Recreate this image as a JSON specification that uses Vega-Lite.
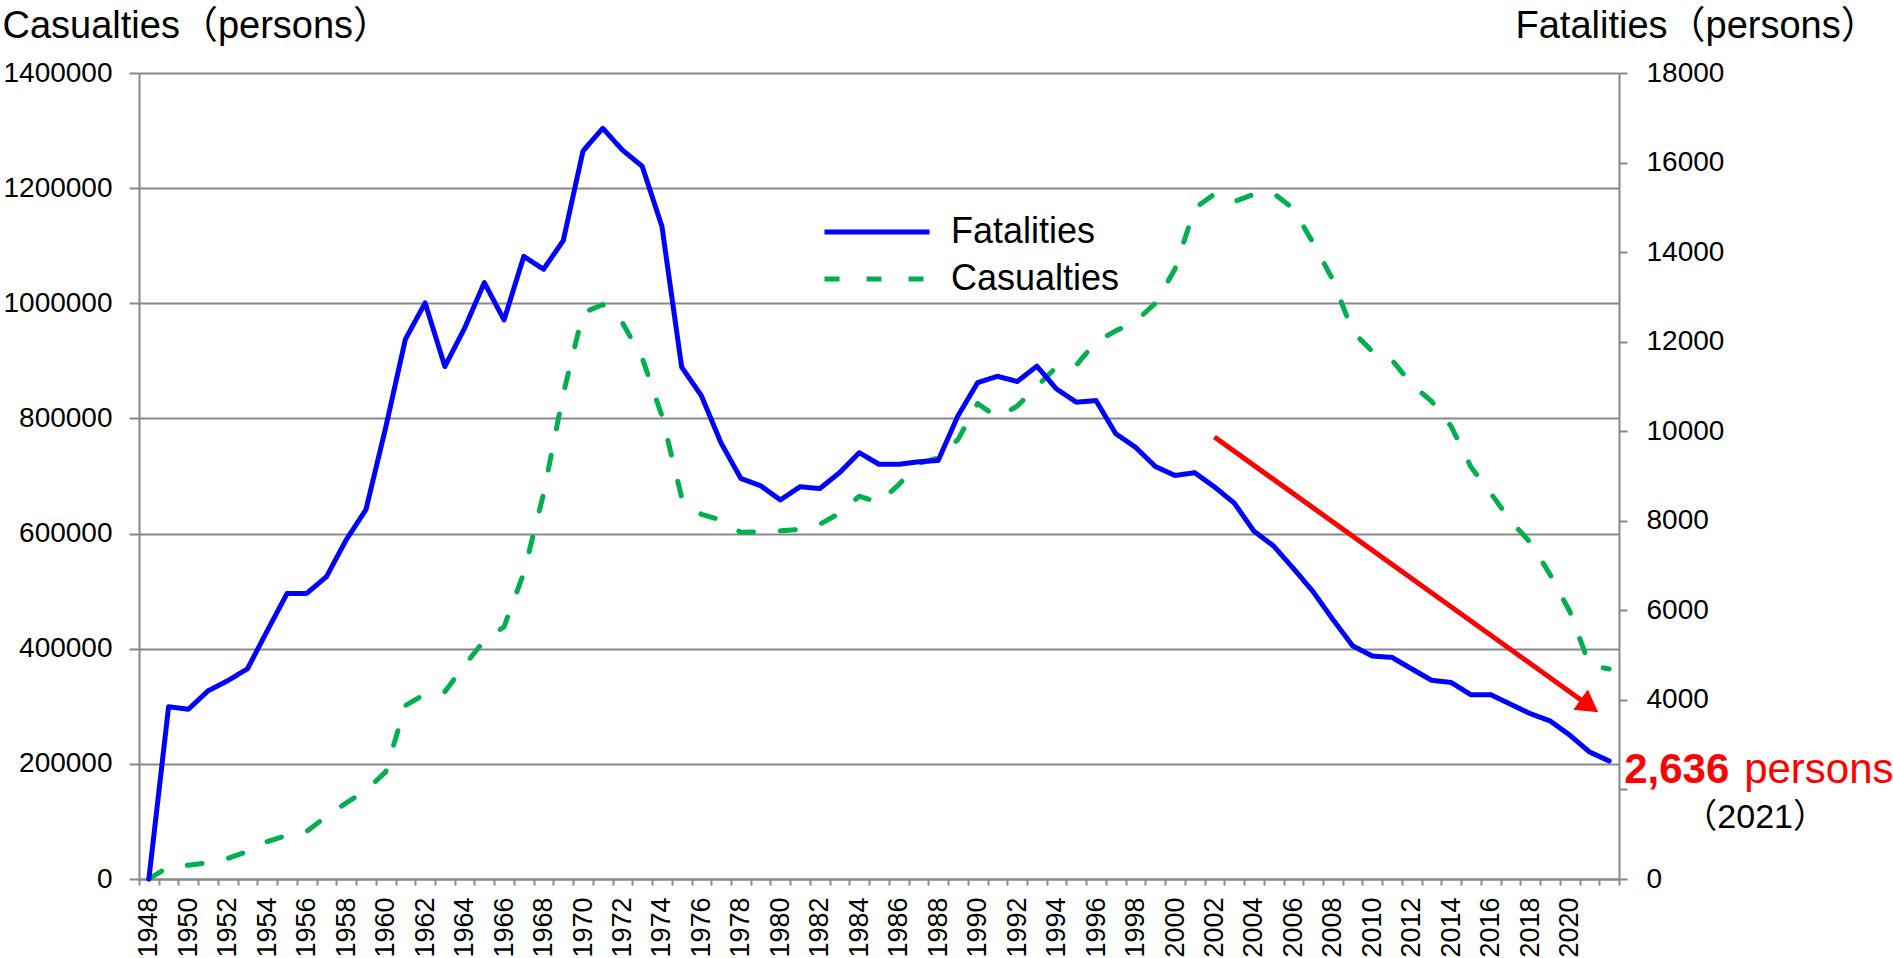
{
  "$schema": "https://vega.github.io/schema/vega-lite/v6.json",
  "width": 1480,
  "height": 806,
  "autosize": {"type": "none"},
  "padding": {"left": 139, "top": 73, "right": 274, "bottom": 79},
  "background": "white",
  "config": {
    "view": {"stroke": null},
    "font": "Liberation Sans, Arial, Noto Sans CJK JP",
    "legend": {
      "orient": "none",
      "legendX": 720,
      "legendY": 141,
      "padding": 0,
      "title": null,
      "symbolType": "M-5,0H5",
      "symbolSize": 441,
      "symbolStrokeWidth": 5,
      "labelFontSize": 36,
      "labelFont": "Liberation Sans, Arial",
      "labelColor": "#000000",
      "labelOffset": 56,
      "rowPadding": 11,
      "labelLimit": 400
    }
  },
  "datasets": {
    "casualties": [
      {"pos": "1948", "series": "Casualties", "value": 0},
      {"pos": "1949", "series": "Casualties", "value": 21457},
      {"pos": "1950", "series": "Casualties", "value": 24000},
      {"pos": "1951", "series": "Casualties", "value": 28000},
      {"pos": "1952", "series": "Casualties", "value": 35703},
      {"pos": "1953", "series": "Casualties", "value": 48017},
      {"pos": "1954", "series": "Casualties", "value": 64824},
      {"pos": "1955", "series": "Casualties", "value": 76000},
      {"pos": "1956", "series": "Casualties", "value": 82880},
      {"pos": "1957", "series": "Casualties", "value": 108823},
      {"pos": "1958", "series": "Casualties", "value": 132105},
      {"pos": "1959", "series": "Casualties", "value": 153680},
      {"pos": "1960", "series": "Casualties", "value": 186030},
      {"pos": "1961", "series": "Casualties", "value": 301211},
      {"pos": "1962", "series": "Casualties", "value": 321562},
      {"pos": "1963", "series": "Casualties", "value": 325258},
      {"pos": "1964", "series": "Casualties", "value": 371390},
      {"pos": "1965", "series": "Casualties", "value": 414435},
      {"pos": "1966", "series": "Casualties", "value": 438150},
      {"pos": "1967", "series": "Casualties", "value": 531679},
      {"pos": "1968", "series": "Casualties", "value": 668995},
      {"pos": "1969", "series": "Casualties", "value": 842327},
      {"pos": "1970", "series": "Casualties", "value": 983257},
      {"pos": "1971", "series": "Casualties", "value": 997861},
      {"pos": "1972", "series": "Casualties", "value": 965967},
      {"pos": "1973", "series": "Casualties", "value": 905116},
      {"pos": "1974", "series": "Casualties", "value": 804522},
      {"pos": "1975", "series": "Casualties", "value": 662852},
      {"pos": "1976", "series": "Casualties", "value": 633259},
      {"pos": "1977", "series": "Casualties", "value": 623691},
      {"pos": "1978", "series": "Casualties", "value": 602156},
      {"pos": "1979", "series": "Casualties", "value": 602899},
      {"pos": "1980", "series": "Casualties", "value": 604748},
      {"pos": "1981", "series": "Casualties", "value": 607479},
      {"pos": "1982", "series": "Casualties", "value": 616065},
      {"pos": "1983", "series": "Casualties", "value": 635265},
      {"pos": "1984", "series": "Casualties", "value": 665000},
      {"pos": "1985", "series": "Casualties", "value": 653583},
      {"pos": "1986", "series": "Casualties", "value": 685000},
      {"pos": "1987", "series": "Casualties", "value": 721647},
      {"pos": "1988", "series": "Casualties", "value": 731526},
      {"pos": "1989", "series": "Casualties", "value": 763189},
      {"pos": "1990", "series": "Casualties", "value": 825918},
      {"pos": "1991", "series": "Casualties", "value": 801522},
      {"pos": "1992", "series": "Casualties", "value": 821354},
      {"pos": "1993", "series": "Casualties", "value": 855455},
      {"pos": "1994", "series": "Casualties", "value": 889575},
      {"pos": "1995", "series": "Casualties", "value": 892372},
      {"pos": "1996", "series": "Casualties", "value": 933361},
      {"pos": "1997", "series": "Casualties", "value": 952146},
      {"pos": "1998", "series": "Casualties", "value": 968567},
      {"pos": "1999", "series": "Casualties", "value": 999889},
      {"pos": "2000", "series": "Casualties", "value": 1059411},
      {"pos": "2001", "series": "Casualties", "value": 1164780},
      {"pos": "2002", "series": "Casualties", "value": 1189796},
      {"pos": "2003", "series": "Casualties", "value": 1176425},
      {"pos": "2004", "series": "Casualties", "value": 1189449},
      {"pos": "2005", "series": "Casualties", "value": 1191053},
      {"pos": "2006", "series": "Casualties", "value": 1164050},
      {"pos": "2007", "series": "Casualties", "value": 1104979},
      {"pos": "2008", "series": "Casualties", "value": 1040448},
      {"pos": "2009", "series": "Casualties", "value": 950912},
      {"pos": "2010", "series": "Casualties", "value": 916194},
      {"pos": "2011", "series": "Casualties", "value": 901245},
      {"pos": "2012", "series": "Casualties", "value": 859304},
      {"pos": "2013", "series": "Casualties", "value": 829830},
      {"pos": "2014", "series": "Casualties", "value": 785880},
      {"pos": "2015", "series": "Casualties", "value": 715487},
      {"pos": "2016", "series": "Casualties", "value": 670140},
      {"pos": "2017", "series": "Casualties", "value": 622757},
      {"pos": "2018", "series": "Casualties", "value": 584544},
      {"pos": "2019", "series": "Casualties", "value": 529378},
      {"pos": "2020", "series": "Casualties", "value": 464990},
      {"pos": "2021", "series": "Casualties", "value": 372315},
      {"pos": "2022", "series": "Casualties", "value": 364767}
    ],
    "fatalities": [
      {"pos": "1948", "series": "Fatalities", "value": 0},
      {"pos": "1949", "series": "Fatalities", "value": 3848},
      {"pos": "1950", "series": "Fatalities", "value": 3790},
      {"pos": "1951", "series": "Fatalities", "value": 4202},
      {"pos": "1952", "series": "Fatalities", "value": 4429},
      {"pos": "1953", "series": "Fatalities", "value": 4696},
      {"pos": "1954", "series": "Fatalities", "value": 5544},
      {"pos": "1955", "series": "Fatalities", "value": 6374},
      {"pos": "1956", "series": "Fatalities", "value": 6379},
      {"pos": "1957", "series": "Fatalities", "value": 6751},
      {"pos": "1958", "series": "Fatalities", "value": 7575},
      {"pos": "1959", "series": "Fatalities", "value": 8248},
      {"pos": "1960", "series": "Fatalities", "value": 10079},
      {"pos": "1961", "series": "Fatalities", "value": 12055},
      {"pos": "1962", "series": "Fatalities", "value": 12865},
      {"pos": "1963", "series": "Fatalities", "value": 11445},
      {"pos": "1964", "series": "Fatalities", "value": 12301},
      {"pos": "1965", "series": "Fatalities", "value": 13318},
      {"pos": "1966", "series": "Fatalities", "value": 12484},
      {"pos": "1967", "series": "Fatalities", "value": 13904},
      {"pos": "1968", "series": "Fatalities", "value": 13618},
      {"pos": "1969", "series": "Fatalities", "value": 14256},
      {"pos": "1970", "series": "Fatalities", "value": 16257},
      {"pos": "1971", "series": "Fatalities", "value": 16765},
      {"pos": "1972", "series": "Fatalities", "value": 16278},
      {"pos": "1973", "series": "Fatalities", "value": 15918},
      {"pos": "1974", "series": "Fatalities", "value": 14574},
      {"pos": "1975", "series": "Fatalities", "value": 11432},
      {"pos": "1976", "series": "Fatalities", "value": 10792},
      {"pos": "1977", "series": "Fatalities", "value": 9734},
      {"pos": "1978", "series": "Fatalities", "value": 8945},
      {"pos": "1979", "series": "Fatalities", "value": 8783},
      {"pos": "1980", "series": "Fatalities", "value": 8466},
      {"pos": "1981", "series": "Fatalities", "value": 8760},
      {"pos": "1982", "series": "Fatalities", "value": 8719},
      {"pos": "1983", "series": "Fatalities", "value": 9073},
      {"pos": "1984", "series": "Fatalities", "value": 9520},
      {"pos": "1985", "series": "Fatalities", "value": 9262},
      {"pos": "1986", "series": "Fatalities", "value": 9261},
      {"pos": "1987", "series": "Fatalities", "value": 9317},
      {"pos": "1988", "series": "Fatalities", "value": 9347},
      {"pos": "1989", "series": "Fatalities", "value": 10344},
      {"pos": "1990", "series": "Fatalities", "value": 11086},
      {"pos": "1991", "series": "Fatalities", "value": 11227},
      {"pos": "1992", "series": "Fatalities", "value": 11109},
      {"pos": "1993", "series": "Fatalities", "value": 11452},
      {"pos": "1994", "series": "Fatalities", "value": 10942},
      {"pos": "1995", "series": "Fatalities", "value": 10649},
      {"pos": "1996", "series": "Fatalities", "value": 10684},
      {"pos": "1997", "series": "Fatalities", "value": 9943},
      {"pos": "1998", "series": "Fatalities", "value": 9642},
      {"pos": "1999", "series": "Fatalities", "value": 9214},
      {"pos": "2000", "series": "Fatalities", "value": 9012},
      {"pos": "2001", "series": "Fatalities", "value": 9073},
      {"pos": "2002", "series": "Fatalities", "value": 8757},
      {"pos": "2003", "series": "Fatalities", "value": 8396},
      {"pos": "2004", "series": "Fatalities", "value": 7768},
      {"pos": "2005", "series": "Fatalities", "value": 7436},
      {"pos": "2006", "series": "Fatalities", "value": 6937},
      {"pos": "2007", "series": "Fatalities", "value": 6415},
      {"pos": "2008", "series": "Fatalities", "value": 5796},
      {"pos": "2009", "series": "Fatalities", "value": 5209},
      {"pos": "2010", "series": "Fatalities", "value": 4979},
      {"pos": "2011", "series": "Fatalities", "value": 4948},
      {"pos": "2012", "series": "Fatalities", "value": 4691},
      {"pos": "2013", "series": "Fatalities", "value": 4438},
      {"pos": "2014", "series": "Fatalities", "value": 4388},
      {"pos": "2015", "series": "Fatalities", "value": 4113},
      {"pos": "2016", "series": "Fatalities", "value": 4117},
      {"pos": "2017", "series": "Fatalities", "value": 3904},
      {"pos": "2018", "series": "Fatalities", "value": 3694},
      {"pos": "2019", "series": "Fatalities", "value": 3532},
      {"pos": "2020", "series": "Fatalities", "value": 3215},
      {"pos": "2021", "series": "Fatalities", "value": 2839},
      {"pos": "2022", "series": "Fatalities", "value": 2636}
    ],
    "arrow": [
      {"pos": "2002", "value": 9870},
      {"pos": "2021", "value": 3865}
    ],
    "arrowhead": [
      {"pos": "2021", "value": 3865}
    ],
    "last": [
      {"pos": "2022", "value": 2636}
    ]
  },
  "encoding": {
    "x": {
      "field": "pos",
      "type": "ordinal",
      "scale": {"type": "band", "paddingInner": 0, "paddingOuter": 0},
      "axis": {
        "title": null,
        "tickBand": "extent",
        "labelAngle": 270,
        "labelAlign": "right",
        "labelBaseline": "middle",
        "labelPadding": 12,
        "labelFontSize": 27,
        "labelFont": "Liberation Sans, Arial",
        "labelColor": "#000000",
        "labelOverlap": false,
        "labelExpr": "(toNumber(datum.value) % 2 == 0 && toNumber(datum.value) <= 2020) ? datum.value : ''",
        "tickSize": 6,
        "tickColor": "#888888",
        "tickWidth": 2,
        "domainColor": "#888888",
        "domainWidth": 2,
        "grid": false
      }
    }
  },
  "layer": [
    {
      "data": {"name": "casualties"},
      "mark": {"type": "line", "strokeWidth": 5, "strokeCap": "round", "strokeJoin": "round"},
      "encoding": {
        "y": {
          "field": "value",
          "type": "quantitative",
          "scale": {"domain": [0, 1400000], "nice": false, "zero": true},
          "axis": {
            "orient": "left",
            "title": "Casualties（persons）",
            "titleAngle": 0,
            "titleAlign": "left",
            "titleBaseline": "alphabetic",
            "titleX": -137,
            "titleY": -36,
            "titleFontSize": 38,
            "titleFontWeight": "normal",
            "titleColor": "#000000",
            "titleFont": "Liberation Sans, Arial, Noto Sans CJK JP",
            "values": [0, 200000, 400000, 600000, 800000, 1000000, 1200000, 1400000],
            "format": "d",
            "labelFontSize": 28,
            "labelFont": "Liberation Sans, Arial",
            "labelColor": "#000000",
            "labelPadding": 17,
            "tickSize": 10,
            "tickColor": "#888888",
            "tickWidth": 2,
            "domainColor": "#888888",
            "domainWidth": 2,
            "grid": true,
            "gridColor": "#888888",
            "gridWidth": 2
          }
        },
        "color": {
          "field": "series",
          "type": "nominal",
          "scale": {"domain": ["Fatalities", "Casualties"], "range": ["#0000FF", "#00B050"]},
          "legend": {
            "encode": {
              "symbols": {
                "update": {
                  "strokeDash": {"signal": "datum.value === 'Casualties' ? [21, 17] : [1, 0]"},
                  "strokeCap": {"value": "butt"}
                }
              }
            }
          }
        },
        "strokeDash": {
          "field": "series",
          "type": "nominal",
          "scale": {"domain": ["Fatalities", "Casualties"], "range": [[1, 0], [15, 27]]}
        }
      }
    },
    {
      "encoding": {
        "y": {
          "field": "value",
          "type": "quantitative",
          "scale": {"domain": [0, 18000], "nice": false, "zero": true},
          "axis": {
            "orient": "right",
            "title": "Fatalities（persons）",
            "titleAngle": 0,
            "titleAlign": "left",
            "titleBaseline": "alphabetic",
            "titleX": -104,
            "titleY": -36,
            "titleFontSize": 38,
            "titleFontWeight": "normal",
            "titleColor": "#000000",
            "titleFont": "Liberation Sans, Arial, Noto Sans CJK JP",
            "values": [0, 2000, 4000, 6000, 8000, 10000, 12000, 14000, 16000, 18000],
            "format": "d",
            "labelExpr": "datum.value == 2000 ? '' : datum.label",
            "labelFontSize": 28,
            "labelFont": "Liberation Sans, Arial",
            "labelColor": "#000000",
            "labelPadding": 19,
            "tickSize": 8,
            "tickColor": "#888888",
            "tickWidth": 2,
            "domainColor": "#888888",
            "domainWidth": 2,
            "grid": false
          }
        }
      },
      "layer": [
        {
          "data": {"name": "fatalities"},
          "mark": {"type": "line", "strokeWidth": 5, "strokeCap": "round", "strokeJoin": "round"},
          "encoding": {
            "color": {"field": "series", "type": "nominal"},
            "strokeDash": {"field": "series", "type": "nominal"}
          }
        },
        {
          "data": {"name": "arrow"},
          "mark": {"type": "line", "color": "#FF0000", "strokeWidth": 5}
        },
        {
          "data": {"name": "arrowhead"},
          "mark": {"type": "point", "shape": "triangle-right", "angle": 35.5, "size": 620, "filled": true, "color": "#FF0000", "opacity": 1}
        },
        {
          "data": {"name": "last"},
          "mark": {"type": "text", "text": "2,636", "font": "Liberation Sans, Arial", "fontSize": 42, "fontWeight": "bold", "color": "#FF0000", "align": "left", "baseline": "alphabetic", "dx": 15, "dy": 22}
        },
        {
          "data": {"name": "last"},
          "mark": {"type": "text", "text": "persons", "font": "Liberation Sans, Arial", "fontSize": 42, "color": "#FF0000", "align": "left", "baseline": "alphabetic", "dx": 135, "dy": 22}
        },
        {
          "data": {"name": "last"},
          "mark": {"type": "text", "text": "（2021）", "font": "Liberation Sans, Arial, Noto Sans CJK JP", "fontSize": 34, "color": "#000000", "align": "center", "baseline": "alphabetic", "dx": 146, "dy": 67}
        }
      ]
    }
  ],
  "resolve": {"scale": {"y": "independent"}, "axis": {"y": "independent"}}
}
